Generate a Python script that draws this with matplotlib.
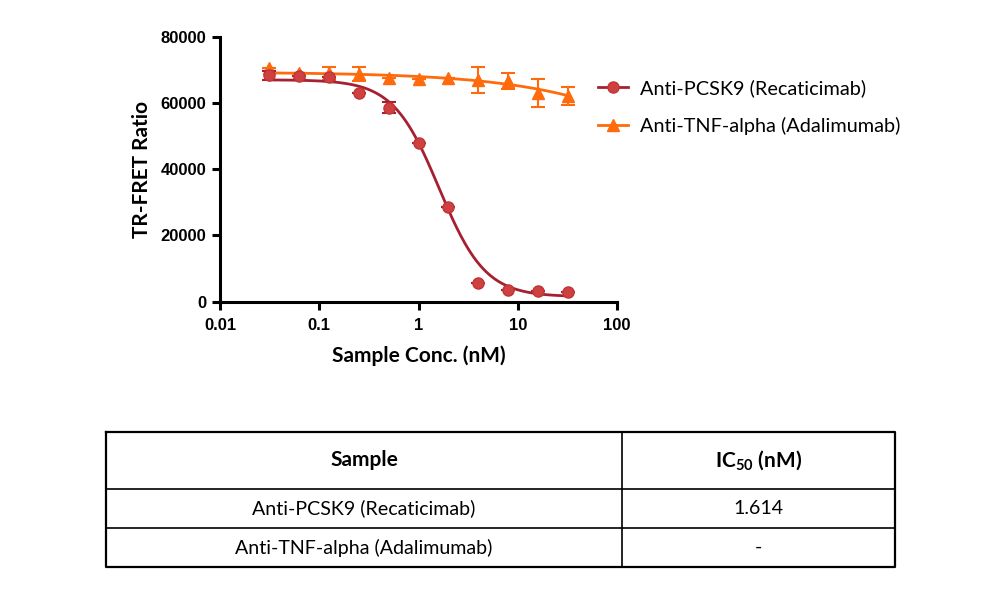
import matplotlib
matplotlib.use('Agg')
import matplotlib.pyplot as plt
from matplotlib.lines import Line2D
import numpy as np

plt.rcParams['font.family'] = ['Lato', 'DejaVu Sans']
plt.rcParams['mathtext.fontset'] = 'custom'
plt.rcParams['mathtext.rm'] = 'Lato'
plt.rcParams['mathtext.bf'] = 'Lato:bold'

# data
conc = [0.03125, 0.0625, 0.125, 0.25, 0.5, 1, 2, 4, 8, 16, 32]

pcsk9 = [68300, 68200, 67900, 63000, 58600, 47900, 28600, 5800, 3500, 3200, 2800]
pcsk9_err = [1500, 0, 0, 0, 1700, 0, 0, 0, 0, 0, 0]

tnf = [70500, 69000, 68900, 68700, 67400, 67200, 67600, 67000, 66600, 63000, 62100]
tnf_err = [0, 0, 2000, 2200, 0, 0, 0, 4000, 2300, 4200, 2700]

# 4PL fit parameters (top, bottom, IC50, hill)
pcsk9_fit = (67000, 1500, 1.614, 1.87)
tnf_fit = (69300, 0, 2268, 0.51)

labels = ['Anti-PCSK9 (Recaticimab)', 'Anti-TNF-alpha (Adalimumab)']
table_header = ['Sample', r'IC$_{\mathbf{50}}$ (nM)']
table_ic50 = ['1.614', '-']

red_line = '#a52030'
red_face = '#cf4040'
orange = '#ff6a0d'


def fourpl(x, p):
    top, bottom, ic50, hill = p
    return bottom + (top - bottom) / (1 + (x / ic50) ** hill)


fig = plt.figure(figsize=(10, 6.15), dpi=100)
ax = fig.add_axes([0.22, 0.5094, 0.397, 0.4309])

xs = np.logspace(np.log10(conc[0]), np.log10(conc[-1]), 300)

# orange series below red
ax.plot(xs, fourpl(xs, tnf_fit), color=orange, lw=2, zorder=2)
ax.errorbar(conc, tnf, yerr=tnf_err, fmt='^', color=orange, ms=8,
            ecolor=orange, elinewidth=1.5, capsize=5, capthick=1.5, zorder=3)

ax.plot(xs, fourpl(xs, pcsk9_fit), color=red_line, lw=2, zorder=4)
ax.errorbar(conc, pcsk9, yerr=pcsk9_err, fmt='o', color=red_face, ms=8,
            mec='#c03535', ecolor=red_line, elinewidth=1.5, capsize=5,
            capthick=1.5, zorder=5)

ax.set_xscale('log')
ax.set_xlim(0.01, 100)
ax.set_ylim(0, 80000)
ax.set_xticks([0.01, 0.1, 1, 10, 100])
ax.set_xticklabels(['0.01', '0.1', '1', '10', '100'])
ax.set_yticks([0, 20000, 40000, 60000, 80000])
ax.set_yticklabels(['0', '20000', '40000', '60000', '80000'])
ax.minorticks_off()

for side in ['top', 'right']:
    ax.spines[side].set_visible(False)
for side in ['left', 'bottom']:
    ax.spines[side].set_linewidth(2.2)
ax.tick_params(axis='both', direction='out', length=6, width=2.2, pad=4)
ax.tick_params(axis='x', pad=6)
for lab in ax.get_xticklabels() + ax.get_yticklabels():
    lab.set_fontfamily(['Liberation Sans', 'DejaVu Sans'])
    lab.set_fontweight('bold')
    lab.set_fontsize(12)

ax.set_xlabel('Sample Conc. (nM)', fontsize=15, fontweight='bold', labelpad=9)
ax.set_ylabel('TR-FRET Ratio', fontsize=15, fontweight='bold', labelpad=6)

# legend outside the axes
handles = [
    Line2D([], [], color=red_line, lw=2, marker='o', ms=8, mfc=red_face, mec='#c03535'),
    Line2D([], [], color=orange, lw=2, marker='^', ms=8, mfc=orange, mec=orange),
]
fig.legend(handles, labels, loc='upper left', bbox_to_anchor=(0.58, 0.9),
           frameon=False, fontsize=14.3, handlelength=1.5, handletextpad=0.6,
           labelspacing=1.0)

# IC50 table drawn in figure coordinates
W, H = 1000.0, 615.0
left, right, mid = 106, 895, 622
rows_y = [432, 489, 528, 567]


def fx(px):
    return px / W


def fy(py):
    return 1 - py / H


fig.add_artist(Line2D([fx(left), fx(right), fx(right), fx(left), fx(left)],
                      [fy(rows_y[0]), fy(rows_y[0]), fy(rows_y[-1]), fy(rows_y[-1]), fy(rows_y[0])],
                      color='black', lw=1.6))
for y in rows_y[1:-1]:
    fig.add_artist(Line2D([fx(left), fx(right)], [fy(y), fy(y)], color='black', lw=1.2))
fig.add_artist(Line2D([fx(mid), fx(mid)], [fy(rows_y[0]), fy(rows_y[-1])], color='black', lw=1.2))

c1 = fx((left + mid) / 2)
c2 = fx((mid + right) / 2)
hy = fy((rows_y[0] + rows_y[1]) / 2)
fig.text(c1, hy, table_header[0], ha='center', va='center', fontsize=15, fontweight='bold')
fig.text(c2, hy, table_header[1], ha='center', va='center', fontsize=15, fontweight='bold')
for i in range(2):
    ry = fy((rows_y[i + 1] + rows_y[i + 2]) / 2)
    fig.text(c1, ry, labels[i], ha='center', va='center', fontsize=14.1)
    fig.text(c2, ry, table_ic50[i], ha='center', va='center', fontsize=14.1)

fig.savefig('out.png', dpi=100)
